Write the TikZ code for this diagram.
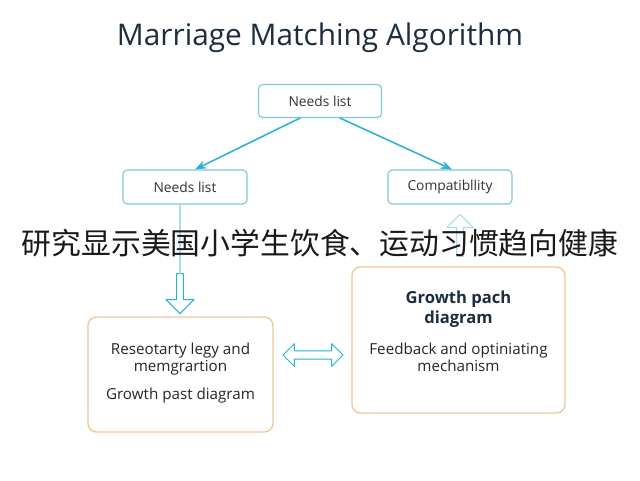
\documentclass[tikz,border=0pt]{standalone}
\usepackage{fontspec}
\setmainfont{Open Sans}
\newfontfamily\cjk{Noto Sans CJK SC}
\usetikzlibrary{arrows.meta,positioning,shapes.arrows}
\definecolor{matchnavy}{RGB}{30,45,62}
\definecolor{matchteal}{RGB}{125,200,214}
\definecolor{matchcyan}{RGB}{42,178,214}
\definecolor{matchpale}{RGB}{172,220,232}
\definecolor{matchsand}{RGB}{240,200,152}

\begin{document}
\begin{tikzpicture}[>=Stealth,line cap=round,line join=round,
  listbox/.style={draw=matchteal,line width=.8pt,rounded corners=3pt,fill=white,
   minimum width=3.1cm,minimum height=.85cm,text=black!80,font=\fontsize{9.8}{12}\selectfont},
  stagebox/.style={draw=matchsand,line width=1pt,rounded corners=6pt,fill=white},
  stagetext/.style={align=center,text=black!85,font=\fontsize{10.8}{10.4}\selectfont},
  hollow/.style={draw=matchcyan,fill=white,line width=.7pt,inner sep=2pt}]
 \useasboundingbox (0,0) rectangle (16,12);
 \node[text=matchnavy,font=\fontsize{21.2}{24}\selectfont] (title) at (8,11.05)
  {Marriage Matching Algorithm};
 \node[listbox,minimum width=3.075cm,minimum height=.825cm] (needs) at (8,9.475) {Needs list};
 \node[listbox] (needsl) at (4.625,7.325) {Needs list};
 \node[listbox] (compat) at (11.25,7.325) {Compatibllity};
 \draw[->,matchcyan,line width=1.1pt]
  ([xshift=-.5cm]needs.south) -- ([xshift=.25cm]needsl.north);
 \draw[->,matchcyan,line width=1.1pt]
  ([xshift=.5cm]needs.south) -- ([xshift=.05cm]compat.north);
 \node[stagebox,minimum width=4.625cm,minimum height=2.875cm] (resv) at (4.5125,2.6375) {};
 \node[stagetext] (resvtxt) at ([yshift=-1.07cm]resv.north)
  {Reseotarty legy and\\memgrartion};
 \node[stagetext] (resvsub) at ([yshift=-1.98cm]resv.north) {Growth past diagram};
 \node[stagebox,minimum width=5.325cm,minimum height=3.65cm] (growth) at (11.4625,3.5) {};
 \node[align=center,text=matchnavy,font=\fontsize{11.8}{14.5}\bfseries]
  (growthttl) at ([yshift=-1.07cm]growth.north) {Growth pach\\diagram};
 \node[stagetext] (growthtxt) at ([yshift=-2.27cm]growth.north)
  {Feedback and optiniating\\mechanism};
 \node[hollow,single arrow,single arrow head extend=.27cm,minimum height=1cm,
  rotate=-90] (down) at (4.5,4.7) {};
 \draw[matchpale,line width=.8pt] (needsl.south -| down.tail) -- (down.tail);
 \node[hollow,single arrow,single arrow head extend=.25cm,minimum height=1.05cm,
  rotate=90,draw=matchpale] (up) at (11.5,6.075) {};
 \node[hollow,double arrow,double arrow head extend=.18cm,minimum height=1.5cm,inner sep=2.6pt]
  (link) at (7.825,3.125) {};
 \node[text=black!90,font=\cjk\fontsize{21.2}{24}\selectfont] (banner) at (8,5.925)
  {研究显示美国小学生饮食、运动习惯趋向健康};
\end{tikzpicture}
\end{document}
